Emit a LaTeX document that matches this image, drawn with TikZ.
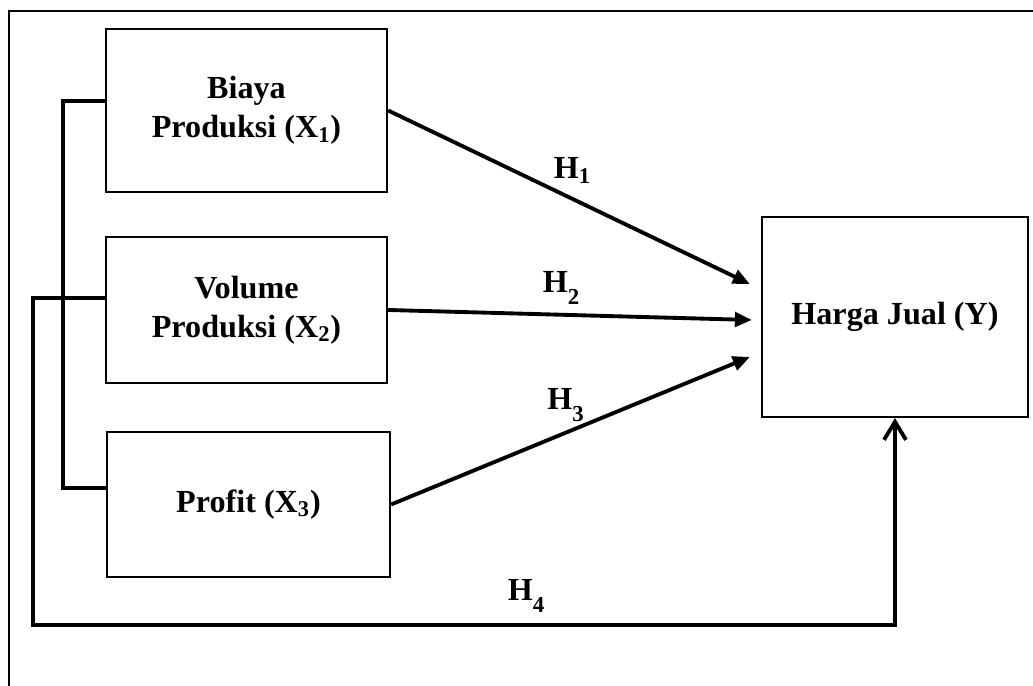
\documentclass[tikz,border=0pt]{standalone}
\usepackage{fontspec}
\setmainfont{Liberation Serif}
\usepackage{tikz}
\usetikzlibrary{arrows.meta,positioning,calc}
\newcommand{\hsub}[1]{H\textsubscript{#1}}
\newcommand{\hlow}[1]{H\raisebox{-7pt}{\fontsize{13}{13}\selectfont #1}}

\begin{document}
\begin{tikzpicture}[
  font=\bfseries\fontsize{18.3}{22}\selectfont,
  box/.style={draw, line width=1.3pt, align=center, inner sep=0pt},
  frame/.style={draw, line width=1.3pt},
  link/.style={line width=2.2pt, draw=black},
  flow/.style={link, -{Triangle[length=0.34cm,width=0.29cm]}},
  back/.style={link, -{Straight Barb[length=0.36cm,width=0.44cm,line width=2.2pt]}},
  hlabel/.style={inner sep=0pt}
]
  \useasboundingbox (0,0) rectangle (20.66,13.72);
  \draw[frame] (0.18,0) |- (20.66,13.50);

  \node[box, minimum width=5.62cm, minimum height=3.26cm] (biaya) at (4.93,11.51) {Biaya\\Produksi (X\textsubscript{1})};
  \node[box, minimum width=5.62cm, minimum height=2.92cm] (volume) at (4.93,7.52) {Volume\\Produksi (X\textsubscript{2})};
  \node[box, minimum width=5.66cm, minimum height=2.90cm] (profit) at (4.97,3.63) {Profit (X\textsubscript{3})};
  \node[box, minimum width=5.32cm, minimum height=4.00cm] (harga) at (17.90,7.38) {Harga Jual (Y)};

  \node[hlabel] (h1) at (11.45,10.31) {\hsub{1}};
  \node[hlabel] (h2) at (11.22,7.96) {\hlow{2}};
  \node[hlabel] (h3) at (11.31,5.62) {\hlow{3}};
  \node[hlabel] (h4) at (10.52,1.80) {\hlow{4}};

  % bracket joining the three X variables
  \draw[link] ([yshift=0.19cm]biaya.west) -- ++(-0.84,0) |- ([yshift=0.33cm]profit.west);

  \draw[flow] (biaya.east) -- ([xshift=-0.22cm,yshift=0.66cm]harga.west);
  \draw[flow] (volume.east) -- ([xshift=-0.18cm,yshift=-0.06cm]harga.west);
  \draw[flow] (profit.east) -- ([xshift=-0.22cm,yshift=-0.80cm]harga.west);

  \draw[back] ([yshift=0.24cm]volume.west) -| (0.66,1.22) -| (harga.south);
\end{tikzpicture}
\end{document}
